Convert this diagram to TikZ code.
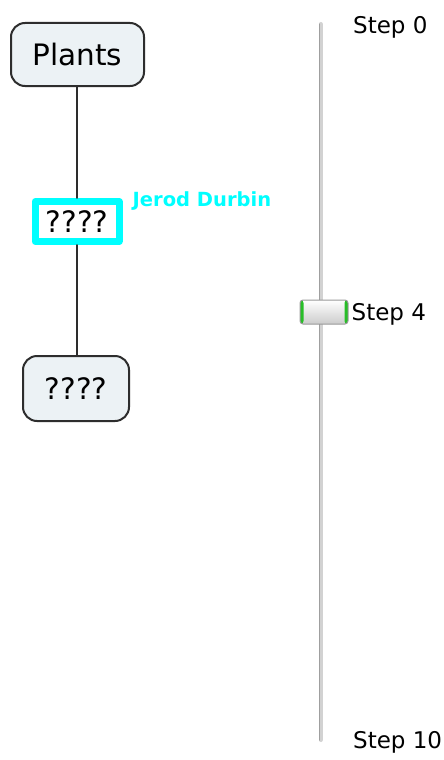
\documentclass[tikz,border=0pt]{standalone}
\usepackage{fontspec}
\setmainfont{DejaVu Sans}
\usetikzlibrary{positioning}
\begin{document}
\begin{tikzpicture}[x=1pt, y=-1pt, line cap=round, line join=round,
    concept/.style={draw=mapborder, line width=2pt, fill=mapfill, rounded corners=14pt,
      inner sep=0pt, font=\fontsize{29.5}{32}\selectfont},
    picked/.style={draw=mapcyan, line width=7pt, fill=white, inner sep=0pt,
      font=\fontsize{29.5}{32}\selectfont},
    link/.style={draw=mapborder, line width=1.8pt},
    steplabel/.style={font=\fontsize{23}{25}\selectfont, inner sep=2pt}]
  \definecolor{mapborder}{RGB}{45,45,45}
  \definecolor{mapfill}{RGB}{236,242,245}
  \definecolor{mapcyan}{RGB}{0,255,255}
  \definecolor{thumbgreen}{RGB}{40,190,40}
  \useasboundingbox[fill=white] (0,0) rectangle (444,760);
  % concept map
  \node[concept, minimum width=133pt, minimum height=63pt] (plants) at (77.5,54.5) {Plants};
  \node[picked, minimum width=84pt, minimum height=40pt] (mid) at (77,221.5) {????};
  \node[concept, minimum width=106pt, minimum height=65pt] (low) at (76,388.5) {????};
  \node[right=9pt of mid.north east, yshift=-3pt, text=mapcyan, inner sep=1pt,
    font=\bfseries\fontsize{19.5}{21}\selectfont] (author) {Jerod Durbin};
  \draw[link] (plants.south -| mid.north) -- (mid.north);
  \draw[link] (mid.south) -- (low.north -| mid.south);
  % slider
  \coordinate (tracktop) at (320.5,24);
  \coordinate (trackbot) at (320.5,740);
  \draw[gray!35, line width=4pt] (tracktop) -- (trackbot);
  \draw[gray!75, line width=1pt] ([xshift=-1.5pt]tracktop) -- ([xshift=-1.5pt]trackbot);
  \node[draw=gray!80, line width=1pt, rounded corners=3pt, top color=white, bottom color=gray!40,
    minimum width=48pt, minimum height=24pt, inner sep=0pt,
    path picture={
      \fill[thumbgreen] (path picture bounding box.south west) rectangle ([xshift=3.5pt]path picture bounding box.north west);
      \fill[thumbgreen] (path picture bounding box.south east) rectangle ([xshift=-3.5pt]path picture bounding box.north east);
    }] (thumb) at (324,312) {};
  \node[steplabel, anchor=west] (s0) at (351,27) {Step 0};
  \node[steplabel, right=1pt of thumb, yshift=-2pt] (s4) {Step 4};
  \node[steplabel, anchor=west] (s10) at (351,742) {Step 10};
\end{tikzpicture}
\end{document}
